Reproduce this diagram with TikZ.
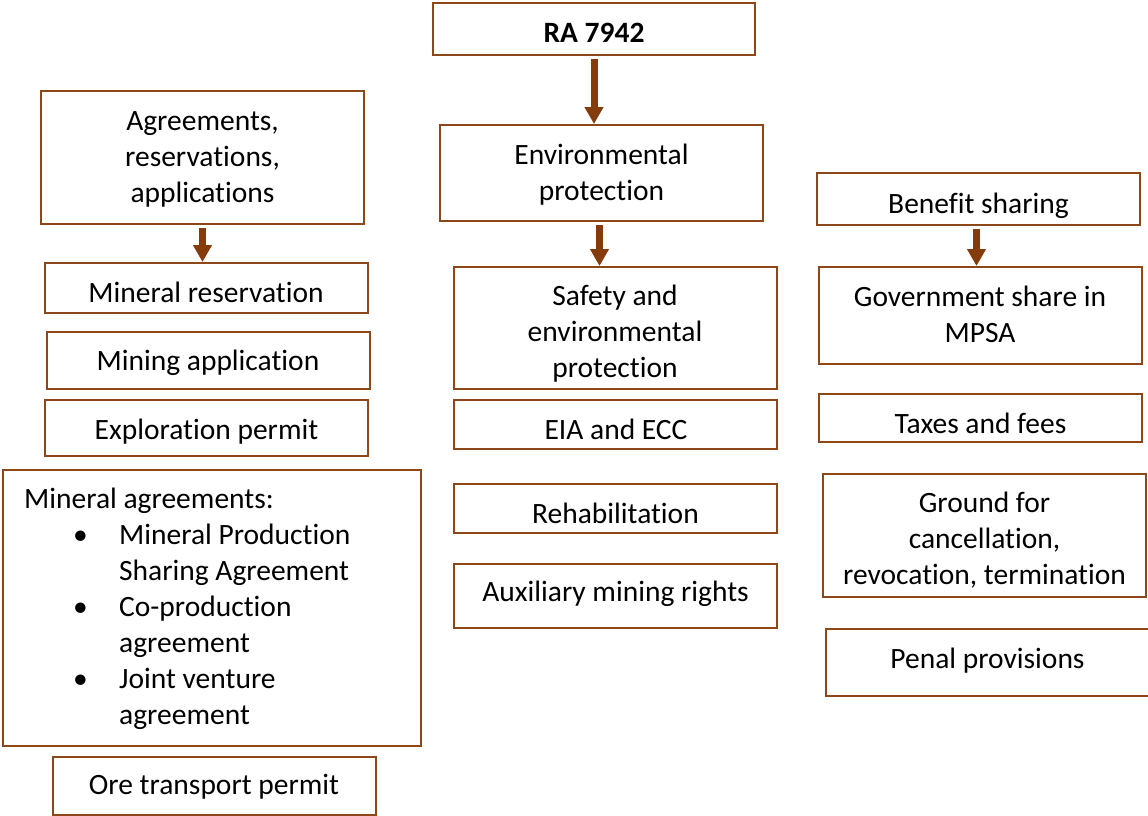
\documentclass[tikz,border=0pt]{standalone}
\usepackage{fontspec}
\setmainfont{Carlito}[Ligatures={NoCommon}, RawFeature={-calt;-clig}]
\usetikzlibrary{arrows.meta,calc}
\definecolor{boxbrown}{RGB}{140,72,24}
\definecolor{arrbrown}{RGB}{132,60,12}
\begin{document}
\begin{tikzpicture}[x=1pt,y=-1pt,
  box/.style={draw=boxbrown, line width=2pt, fill=white, rectangle, inner sep=0pt},
  txt/.style={inner sep=0pt, align=center, anchor=north, yshift=23.7pt,
    font=\fontsize{29.5}{36}\selectfont},
  arr/.style={draw=arrbrown, line width=7pt, -{Triangle[width=18pt,length=17pt]}, shorten <=3pt}]
\useasboundingbox (0,0) rectangle (1148,816);
% ---------- boxes ----------
% centre column
\node[box, minimum width=322pt, minimum height=52pt] (ra) at (594,29) {};
\node[box, minimum width=323pt, minimum height=96pt] (env) at (601.5,173) {};
\node[box, minimum width=323pt, minimum height=122pt] (safe) at (615.5,328) {};
\node[box, minimum width=323pt, minimum height=49pt] (eia) at (615.5,424.5) {};
\node[box, minimum width=323pt, minimum height=49pt] (rehab) at (615.5,508.5) {};
\node[box, minimum width=323pt, minimum height=64pt] (aux) at (615.5,596) {};
% left column
\node[box, minimum width=323pt, minimum height=133pt] (agr) at (202.5,157.5) {};
\node[box, minimum width=323pt, minimum height=50pt] (minres) at (206.5,288) {};
\node[box, minimum width=323pt, minimum height=57pt] (minapp) at (208.5,360.5) {};
\node[box, minimum width=323pt, minimum height=56pt] (expl) at (206.5,428) {};
\node[box, minimum width=418pt, minimum height=276pt] (magr) at (212,608) {};
\node[box, minimum width=323pt, minimum height=58pt] (ore) at (214.5,786) {};
% right column
\node[box, minimum width=323pt, minimum height=52pt] (ben) at (978.5,199) {};
\node[box, minimum width=323pt, minimum height=97pt] (gov) at (980.5,315.5) {};
\node[box, minimum width=323pt, minimum height=48pt] (tax) at (980.5,418) {};
\node[box, minimum width=323pt, minimum height=123pt] (ground) at (984.5,535.5) {};
\node[box, minimum width=323pt, minimum height=67pt] (penal) at (987.5,662.5) {};
% ---------- texts (placed by first baseline) ----------
\node[txt, font=\fontsize{29.5}{36}\selectfont\bfseries] (raT) at (594,41) {\strut RA 7942};
\node[txt] (envT) at (601.5,163) {\strut Environmental\\protection};
\node[txt] (safeT) at (615,304) {\strut Safety and\\environmental\\protection};
\node[txt] (eiaT) at (616,438) {\strut EIA and ECC};
\node[txt] (rehabT) at (615.5,521.5) {\strut Rehabilitation};
\node[txt] (auxT) at (615.5,600) {\strut Auxiliary mining rights};
\node[txt] (agrT) at (202.5,129) {\strut Agreements,\\reservations,\\applications};
\node[txt] (minresT) at (206,301) {\strut Mineral reservation};
\node[txt] (minappT) at (208,369) {\strut Mining application};
\node[txt] (explT) at (206.5,437.5) {\strut Exploration permit};
\node[anchor=base west, inner sep=0pt, font=\fontsize{29.5}{36}\selectfont] (magrT) at (24,508)
 {\begin{tabular}[t]{@{}l@{}}
  Mineral agreements:\\
  \hspace*{49pt}\makebox[46pt][l]{•}Mineral Production\\
  \hspace*{95pt}Sharing Agreement\\
  \hspace*{49pt}\makebox[46pt][l]{•}Co-production\\
  \hspace*{95pt}agreement\\
  \hspace*{49pt}\makebox[46pt][l]{•}Joint venture\\
  \hspace*{95pt}agreement
 \end{tabular}};
\node[txt] (oreT) at (214,793) {\strut Ore transport permit};
\node[txt] (benT) at (978.5,211.5) {\strut Benefit sharing};
\node[txt] (govT) at (980,304.5) {\strut Government share in\\MPSA};
\node[txt] (taxT) at (980.5,431.5) {\strut Taxes and fees};
\node[txt] (groundT) at (984.5,511) {\strut Ground for\\cancellation,\\revocation, termination};
\node[txt] (penalT) at (987.5,666.5) {\strut Penal provisions};
% ---------- arrows ----------
\draw[arr] (ra.south) -- (ra.south |- env.north);
\draw[arr] ($(env.south)+(-2,0)$) -- ($(env.south |- safe.north)+(-2,0)$);
\draw[arr] (agr.south) -- (agr.south |- minres.north);
\draw[arr] ($(ben.south)+(-2,0)$) -- ($(ben.south |- gov.north)+(-2,0)$);
\end{tikzpicture}
\end{document}
